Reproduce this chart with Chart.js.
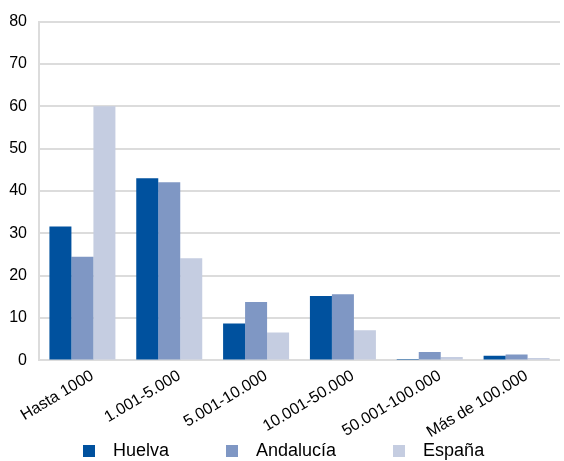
<!DOCTYPE html>
<html>
<head>
<meta charset="utf-8">
<script src="https://cdn.jsdelivr.net/npm/chart.js@4"></script>
<style>
    body { margin: 0; background: #fff; }
    #wrap { position: relative; width: 564px; height: 461px; }
    #legend {
        position: absolute; left: 83px; top: 440px;
        display: flex; align-items: center;
        font-family: "Liberation Sans", Arial, sans-serif; font-size: 18px; color: #000;
    }
    .item { display: flex; align-items: center; margin-right: 57px; }
    .box { width: 12px; height: 12px; margin-right: 18px; }
</style>
</head>
<body>
<div id="wrap">
    <canvas id="sizeChart" width="564" height="461"></canvas>
    <div id="legend"></div>
</div>
<script>
const categories = ["Hasta 1000", "1.001-5.000", "5.001-10.000", "10.001-50.000", "50.001-100.000", "Más de 100.000"];
const seriesNames = ["Huelva", "Andalucía", "España"];
const huelva = [31.6, 43.0, 8.7, 15.2, 0.1, 1.1];
const andalucia = [24.5, 42.1, 13.8, 15.6, 2.0, 1.4];
const espana = [60.0, 24.1, 6.6, 7.1, 0.8, 0.6];
const yTicks = [0, 10, 20, 30, 40, 50, 60, 70, 80];
const colors = ["#00519e", "#7f97c4", "#c5cde1"];

const FONT = "'Liberation Sans', Arial, sans-serif";

function renderLegend() {
    const legend = document.getElementById("legend");
    legend.innerHTML = "";
    seriesNames.forEach((name, i) => {
        const item = document.createElement("div");
        item.className = "item";
        item.innerHTML = `<span class="box" style="background:${colors[i]}"></span><span>${name}</span>`;
        legend.appendChild(item);
    });
}

function renderChart() {
    const ctx = document.getElementById("sizeChart").getContext("2d");
    const values = [huelva, andalucia, espana];

    new Chart(ctx, {
        type: "bar",
        data: {
            labels: categories,
            datasets: seriesNames.map((name, i) => ({
                label: name,
                data: values[i],
                backgroundColor: colors[i],
                borderWidth: 0,
                categoryPercentage: 0.76,
                barPercentage: 1.0
            }))
        },
        options: {
            responsive: false,
            animation: false,
            layout: { autoPadding: false, padding: { top: 19, left: 9, right: 4, bottom: 13 } },
            plugins: {
                legend: { display: false },
                tooltip: { enabled: false }
            },
            scales: {
                x: {
                    grid: { display: false, drawTicks: false },
                    border: { display: false },
                    ticks: {
                        color: "#000",
                        font: { family: FONT, size: 16 },
                        maxRotation: 31,
                        minRotation: 31,
                        padding: 6,
                        labelOffset: 10
                    }
                },
                y: {
                    min: 0,
                    max: 80,
                    afterBuildTicks: axis => { axis.ticks = yTicks.map(v => ({ value: v })); },
                    afterFit: axis => { axis.width = 30; },
                    grid: { color: "#dcdcdc", lineWidth: 2, drawTicks: false },
                    border: { display: true, color: "#dcdcdc", width: 2 },
                    ticks: {
                        color: "#000",
                        font: { family: FONT, size: 16 },
                        padding: 12
                    }
                }
            }
        }
    });
}

document.addEventListener("DOMContentLoaded", () => {
    renderLegend();
    renderChart();
});
</script>
</body>
</html>
